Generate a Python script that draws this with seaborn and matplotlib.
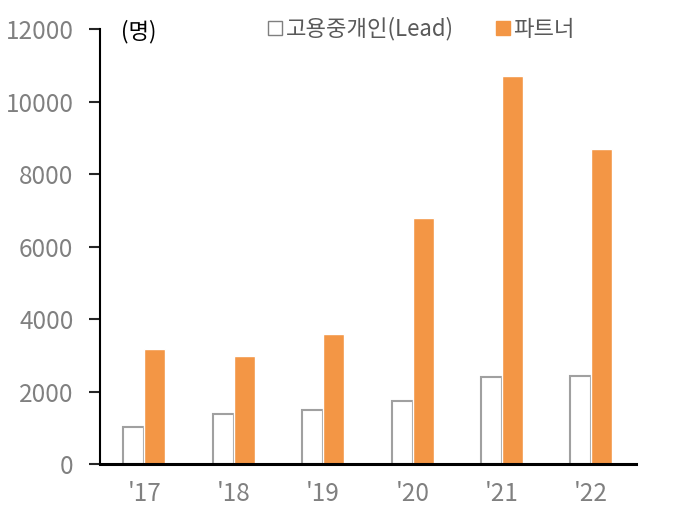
import pandas as pd
import matplotlib.pyplot as plt
import seaborn as sns
from matplotlib.patches import Patch

years = ["'17", "'18", "'19", "'20", "'21", "'22"]
lead = [1020, 1390, 1500, 1750, 2400, 2430]
partner = [3180, 2990, 3590, 6790, 10700, 8690]
series = ["고용중개인(Lead)", "파트너"]

df = pd.DataFrame({
    "year": years * 2,
    "value": lead + partner,
    "kind": [series[0]] * len(years) + [series[1]] * len(years),
})

sns.set_style("white")
plt.rcParams['font.family'] = ['Noto Sans CJK KR', 'DejaVu Sans']

fig = plt.figure(figsize=(6.98, 5.18), dpi=100)
ax = fig.add_axes([0.143, 0.104, 0.768, 0.84])

orange = "#F39645"
sns.barplot(data=df, x="year", y="value", hue="kind", palette=["white", orange],
            width=0.47, gap=0, ax=ax, legend=False, saturation=1)
for p in ax.patches[:len(years)]:
    p.set_edgecolor("#a0a0a0")
    p.set_linewidth(1.5)

ax.set_ylim(0, 12000)
ax.set_xlim(-0.5, 5.5)
ax.set_yticks(range(0, 12001, 2000))
ax.set_xlabel("")
ax.set_ylabel("")
for s in ["top", "right"]:
    ax.spines[s].set_visible(False)
ax.spines["left"].set_color("black")
ax.spines["bottom"].set_color("black")
ax.spines["left"].set_linewidth(1.5)
ax.spines["bottom"].set_linewidth(2.2)
ax.tick_params(axis="y", left=True, direction="out", length=8, width=1.5,
               labelsize=17.5, labelcolor="#808080", pad=11)
ax.tick_params(axis="x", bottom=False, labelsize=17.5, labelcolor="#808080", pad=9)

ax.text(0.04, 0.995, "(명)", transform=ax.transAxes, fontsize=16, color="black",
        va="center", ha="left")

handles = [Patch(facecolor="white", edgecolor="#7f7f7f", linewidth=1),
           Patch(facecolor=orange, edgecolor=orange)]
leg = ax.legend(handles, series, loc="center", bbox_to_anchor=(0.6, 1.0), ncol=2,
                frameon=False, fontsize=16, handlelength=0.65, handleheight=0.65,
                handletextpad=0.15, columnspacing=1.9, labelcolor="#595959")

fig.savefig("out.png", dpi=100)
